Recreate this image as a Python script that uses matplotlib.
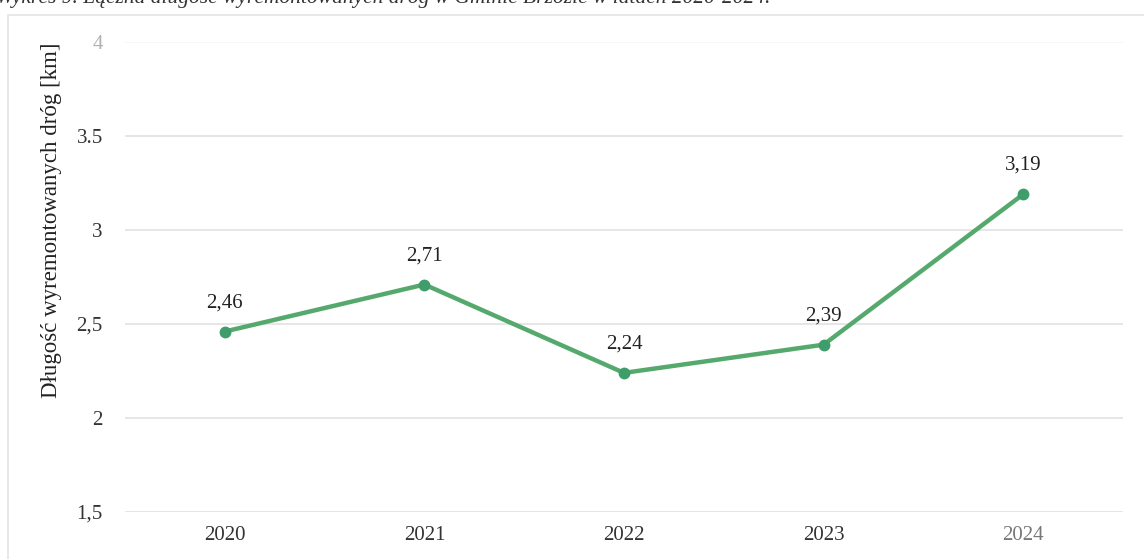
import matplotlib.pyplot as plt
from matplotlib.patches import Rectangle

# dane z wykresu
lata = ['2020', '2021', '2022', '2023', '2024']
dlugosc = [2.46, 2.71, 2.24, 2.39, 3.19]
etykiety = ['2,46', '2,71', '2,24', '2,39', '3,19']
y_ticki = [1.5, 2.0, 2.5, 3.0, 3.5, 4.0]
y_etykiety = ['1,5', '2', '2,5', '3', '3.5', '4']

plt.rcParams['font.family'] = ['Liberation Serif', 'DejaVu Serif']

W, H = 1144, 559
fig = plt.figure(figsize=(W / 100, H / 100), dpi=100)
fig.patch.set_facecolor('white')

# ramka wykresu (jak w Excelu)
fig.patches.append(Rectangle((8 / W, -0.05), 1.2, 1 - 15 / H + 0.05, transform=fig.transFigure,
                             fill=False, edgecolor='#e4e4e4', linewidth=1.2))

# tytul ucięty u góry skanu
fig.text(-4 / W, 1 - 3 / H, 'Wykres 9. Łączna długość wyremontowanych dróg w Gminie Brzozie w latach 2020-2024.',
         fontsize=15.5, style='italic', color='#333333', va='baseline', ha='left')

ax = fig.add_axes([125 / W, (H - 512) / H, 998 / W, 470 / H])
x = range(len(lata))
ax.plot(x, dlugosc, color='#55a96d', linewidth=3.2, marker='o', markersize=7.5,
        markerfacecolor='#3f9d6c', markeredgecolor='#3f9d6c', zorder=3)
for xi, yi, t in zip(x, dlugosc, etykiety):
    ax.annotate(t, (xi, yi), xytext=(0, 14), textcoords='offset points', ha='center', va='bottom',
                fontsize=15, color='#222222')

ax.set_xlim(-0.5, len(lata) - 0.5)
ax.set_ylim(1.5, 4.0)
ax.set_xticks(list(x))
ax.set_xticklabels(lata)
ax.set_yticks(y_ticki)
ax.set_yticklabels(y_etykiety)
for i, lab in enumerate(ax.get_yticklabels()):
    lab.set_color('#b0b0b0' if i == len(y_ticki) - 1 else '#333333')
for i, lab in enumerate(ax.get_xticklabels()):
    lab.set_color('#777777' if i == len(lata) - 1 else '#333333')
ax.tick_params(axis='both', length=0, labelsize=15)
ax.tick_params(axis='y', pad=16)
ax.tick_params(axis='x', pad=10)
ax.grid(axis='y', color='#e2e2e2', linewidth=1.2)
ax.get_ygridlines()[-1].set_color('#f6f6f6')
ax.set_axisbelow(True)
for s in ax.spines.values():
    s.set_visible(False)

ax.set_ylabel('Długość wyremontowanych dróg [km]', fontsize=16.5, color='#222222')
ax.yaxis.set_label_coords(-0.063, 0.62)

fig.savefig('out.png', dpi=100)
